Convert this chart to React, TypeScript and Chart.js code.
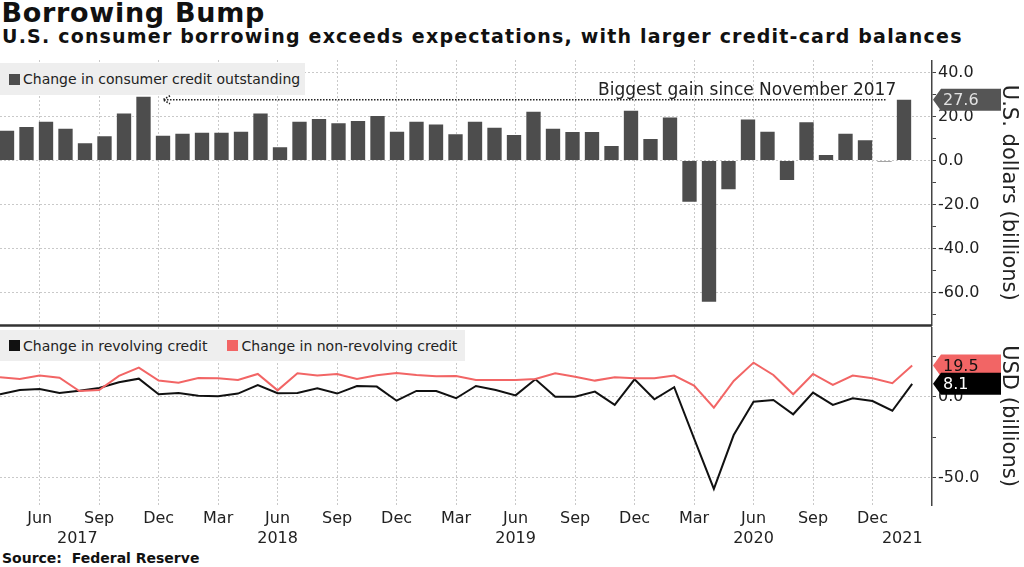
import React, { useEffect, useRef } from 'react';
import { Chart, registerables } from 'chart.js';

Chart.register(...registerables);

const FONT = "'DejaVu Sans', sans-serif";

// ---- data -------------------------------------------------------------
const MONTHS = [
  '2017-04', '2017-05', '2017-06', '2017-07', '2017-08', '2017-09', '2017-10', '2017-11', '2017-12',
  '2018-01', '2018-02', '2018-03', '2018-04', '2018-05', '2018-06', '2018-07', '2018-08', '2018-09', '2018-10', '2018-11', '2018-12',
  '2019-01', '2019-02', '2019-03', '2019-04', '2019-05', '2019-06', '2019-07', '2019-08', '2019-09', '2019-10', '2019-11', '2019-12',
  '2020-01', '2020-02', '2020-03', '2020-04', '2020-05', '2020-06', '2020-07', '2020-08', '2020-09', '2020-10', '2020-11', '2020-12',
  '2021-01', '2021-02',
];

const TOTAL_CREDIT = [
  13.5, 15.2, 17.6, 14.5, 7.8, 11.0, 21.4, 29.0, 11.3,
  12.2, 12.6, 12.6, 13.1, 21.4, 6.0, 17.6, 18.9, 16.9, 18.0, 20.2, 13.1,
  17.6, 16.4, 12.0, 17.6, 14.9, 11.6, 22.2, 14.5, 13.0, 13.0, 6.6, 22.6,
  9.8, 19.6, -18.7, -64.2, -13.1, 18.7, 13.1, -8.9, 17.4, 2.5, 12.2, 9.2,
  -0.4, 27.6,
];

const REVOLVING = [
  1.7, 4.3, 4.9, 2.5, 3.9, 5.6, 9.1, 11.3, 1.7,
  2.5, 0.8, 0.4, 2.1, 7.4, 2.3, 2.5, 5.3, 2.1, 6.8, 6.4, -2.3,
  3.7, 3.7, -0.8, 6.8, 4.3, 1.0, 10.9, 0.2, 0.2, 3.3, -4.9, 10.9,
  -1.4, 6.0, -25.5, -56.8, -23.5, -2.9, -1.9, -10.7, 2.7, -4.9, -0.8, -2.5,
  -8.5, 8.1,
];

const NON_REVOLVING = [
  12.2, 11.1, 13.2, 11.9, 3.7, 4.3, 13.0, 18.1, 10.1,
  8.8, 11.7, 11.5, 10.5, 14.2, 4.1, 14.6, 13.2, 14.2, 11.1, 13.4, 14.8,
  13.6, 12.8, 13.0, 10.5, 10.5, 10.5, 11.1, 14.6, 12.5, 10.1, 12.2, 11.5,
  11.5, 13.2, 7.0, -6.6, 9.9, 21.2, 13.6, 1.7, 14.2, 7.4, 13.2, 11.5,
  8.5, 19.5,
];

const GRID_MONTHS = [
  '2017-06', '2017-09', '2017-12', '2018-03', '2018-06', '2018-09', '2018-12',
  '2019-03', '2019-06', '2019-09', '2019-12', '2020-03', '2020-06', '2020-09', '2020-12',
];
const GRID_LABELS = ['Jun', 'Sep', 'Dec', 'Mar', 'Jun', 'Sep', 'Dec', 'Mar', 'Jun', 'Sep', 'Dec', 'Mar', 'Jun', 'Sep', 'Dec'];
const YEAR_LABELS = ['2017', '2018', '2019', '2020', '2021'];
const YEAR_POS = [3.9, 14, 26, 38, 45.5];

const TOP_LEGEND = 'Change in consumer credit outstanding';
const BOTTOM_LEGEND = ['Change in revolving credit', 'Change in non-revolving credit'];
const ANNOTATION_TEXT = 'Biggest gain since November 2017';
const ANNOTATION_FROM = '2017-11';

const BAR_COLOR = '#4d4d4d';
const REV_COLOR = '#111111';
const NONREV_COLOR = '#f26565';
const GRID_COLOR = '#c9c9c9';
const AXIS_COLOR = '#444444';
const TEXT_COLOR = '#222222';

// ---- helpers -----------------------------------------------------------
const gridPositions = GRID_MONTHS.map((m) => MONTHS.indexOf(m));

function drawTag(ctx: CanvasRenderingContext2D, xTip: number, y: number, fill: string, textColor: string, text: string) {
  const w = 68;
  const h = 22;
  const pw = 8;
  ctx.save();
  ctx.beginPath();
  ctx.moveTo(xTip, y);
  ctx.lineTo(xTip + pw, y - h / 2);
  ctx.lineTo(xTip + w, y - h / 2);
  ctx.lineTo(xTip + w, y + h / 2);
  ctx.lineTo(xTip + pw, y + h / 2);
  ctx.closePath();
  ctx.fillStyle = fill;
  ctx.fill();
  ctx.fillStyle = textColor;
  ctx.font = `16px ${FONT}`;
  ctx.textBaseline = 'middle';
  ctx.textAlign = 'left';
  ctx.fillText(text, xTip + pw + 2, y + 1);
  ctx.restore();
}

const topPlugin = {
  id: 'topExtras',
  afterDraw(chart: any) {
    const { ctx, chartArea, scales } = chart;
    const xb = scales.xb;
    const y = scales.y;
    const last = TOTAL_CREDIT.length - 1;
    const lastVal = TOTAL_CREDIT[last];
    // separator
    ctx.save();
    ctx.strokeStyle = '#333333';
    ctx.lineWidth = 2.5;
    ctx.beginPath();
    ctx.moveTo(0, chartArea.bottom);
    ctx.lineTo(chartArea.right, chartArea.bottom);
    ctx.stroke();
    ctx.restore();
    // annotation
    const ly = y.getPixelForValue(lastVal);
    const x0 = xb.getPixelForValue(MONTHS.indexOf(ANNOTATION_FROM) + 1);
    const x1 = xb.getPixelForValue(last - 0.9);
    ctx.save();
    ctx.strokeStyle = '#222222';
    ctx.lineWidth = 1.6;
    ctx.setLineDash([1.5, 1.5]);
    ctx.beginPath();
    ctx.moveTo(x0 + 1, ly);
    ctx.lineTo(x1, ly);
    ctx.stroke();
    ctx.beginPath();
    ctx.moveTo(x0 + 7, ly - 4);
    ctx.lineTo(x0, ly);
    ctx.lineTo(x0 + 7, ly + 4);
    ctx.stroke();
    ctx.setLineDash([]);
    ctx.fillStyle = TEXT_COLOR;
    ctx.font = `17px ${FONT}`;
    ctx.textAlign = 'right';
    ctx.textBaseline = 'alphabetic';
    ctx.fillText(ANNOTATION_TEXT, xb.getPixelForValue(last - 0.4), ly - 5);
    ctx.restore();
    // value tag
    drawTag(ctx, chartArea.right + 1, y.getPixelForValue(lastVal), '#555555', '#e2e2e2', lastVal.toFixed(1));
  },
};

const bottomPlugin = {
  id: 'bottomExtras',
  afterDraw(chart: any) {
    const { ctx, chartArea, scales } = chart;
    const y = scales.y;
    const last = REVOLVING.length - 1;
    drawTag(ctx, chartArea.right + 1, y.getPixelForValue(NON_REVOLVING[last]), NONREV_COLOR, '#111111', NON_REVOLVING[last].toFixed(1));
    drawTag(ctx, chartArea.right + 1, y.getPixelForValue(REVOLVING[last]), '#000000', '#ffffff', REVOLVING[last].toFixed(1));
  },
};

function yAxis(min: number, max: number, step: number, labelEvery: number, title: string) {
  return {
    type: 'linear',
    position: 'right',
    min,
    max,
    afterFit: (s: any) => {
      s.width = 92;
      s.paddingTop = 0;
      s.paddingBottom = 0;
    },
    ticks: {
      stepSize: step,
      includeBounds: false,
      padding: 2,
      color: TEXT_COLOR,
      font: { family: FONT, size: 16 },
      callback: (v: number) => (Math.abs(v % labelEvery) < 1e-9 ? v.toFixed(1) : ''),
    },
    grid: {
      color: (c: any) => (c.tick && Math.abs(c.tick.value % labelEvery) < 1e-9 ? GRID_COLOR : 'rgba(0,0,0,0)'),
      tickColor: AXIS_COLOR,
      tickLength: 4,
      lineWidth: 1,
    },
    border: { display: true, color: AXIS_COLOR, width: 1.5, dash: [2, 2] },
    title: {
      display: true,
      text: title,
      color: TEXT_COLOR,
      font: { family: FONT, size: 21 },
      padding: { top: 3, bottom: 0 },
    },
  };
}

function gridXAxis(withLabels: boolean) {
  return {
    type: 'linear',
    position: 'bottom',
    min: 0,
    max: MONTHS.length,
    offset: false,
    afterBuildTicks: (s: any) => {
      const t = gridPositions.map((v) => ({ value: v }));
      if (withLabels) YEAR_POS.forEach((v) => t.push({ value: v }));
      s.ticks = t;
    },
    afterFit: (s: any) => {
      s.height = withLabels ? 45 : 0;
      s.paddingLeft = 0;
      s.paddingRight = 0;
    },
    ticks: {
      display: withLabels,
      autoSkip: false,
      maxRotation: 0,
      minRotation: 0,
      padding: 3,
      color: TEXT_COLOR,
      font: { family: FONT, size: 16, lineHeight: 1.3 },
      callback: (_v: number, i: number) => {
        if (i < GRID_LABELS.length) {
          const yi = YEAR_POS.indexOf(gridPositions[i]);
          return yi >= 0 ? [GRID_LABELS[i], YEAR_LABELS[yi]] : GRID_LABELS[i];
        }
        const k = i - GRID_LABELS.length;
        const p = YEAR_POS[k];
        if (gridPositions.indexOf(p) >= 0) return '';
        return ['', YEAR_LABELS[k]];
      },
    },
    grid: {
      offset: false,
      drawTicks: false,
      color: (c: any) => (c.index < GRID_LABELS.length ? GRID_COLOR : 'rgba(0,0,0,0)'),
      lineWidth: 1,
    },
    border: { display: false, dash: [2, 2] },
  };
}

export default function App() {
  const topRef = useRef<HTMLCanvasElement | null>(null);
  const botRef = useRef<HTMLCanvasElement | null>(null);

  useEffect(() => {
    const barData = TOTAL_CREDIT.map((v, i) => ({ x: i, y: v }));
    const top = new Chart(topRef.current as HTMLCanvasElement, {
      type: 'bar',
      data: {
        datasets: [
          {
            label: TOP_LEGEND,
            data: barData as any,
            xAxisID: 'xb',
            yAxisID: 'y',
            backgroundColor: BAR_COLOR,
            borderWidth: 0,
            barPercentage: 0.735,
            categoryPercentage: 1,
          },
        ],
      },
      options: {
        responsive: false,
        animation: false,
        devicePixelRatio: 1,
        layout: { padding: { left: 0, right: 0, top: 0, bottom: 1.5 } },
        plugins: { legend: { display: false }, tooltip: { enabled: false } },
        scales: {
          x: gridXAxis(false) as any,
          xb: {
            type: 'linear',
            display: false,
            offset: false,
            min: -7 / 19.5,
            max: -7 / 19.5 + 932 / 19.5,
            grid: { offset: false },
          } as any,
          y: yAxis(-75, 45.7, 10, 20, 'U.S. dollars (billions)') as any,
        },
      },
      plugins: [topPlugin],
    });

    const bottom = new Chart(botRef.current as HTMLCanvasElement, {
      type: 'line',
      data: {
        datasets: [
          {
            label: BOTTOM_LEGEND[1],
            data: NON_REVOLVING.map((v, i) => ({ x: i, y: v })) as any,
            borderColor: NONREV_COLOR,
            borderWidth: 2,
            pointRadius: 0,
            tension: 0,
          },
          {
            label: BOTTOM_LEGEND[0],
            data: REVOLVING.map((v, i) => ({ x: i, y: v })) as any,
            borderColor: REV_COLOR,
            borderWidth: 2,
            pointRadius: 0,
            tension: 0,
          },
        ],
      },
      options: {
        responsive: false,
        animation: false,
        devicePixelRatio: 1,
        layout: { padding: 0 },
        plugins: { legend: { display: false }, tooltip: { enabled: false } },
        scales: {
          x: gridXAxis(true) as any,
          y: yAxis(-66.7, 43.2, 25, 50, 'USD (billions)') as any,
        },
      },
      plugins: [bottomPlugin],
    });

    return () => {
      top.destroy();
      bottom.destroy();
    };
  }, []);

  const legendBox: React.CSSProperties = {
    position: 'absolute',
    left: 0,
    background: '#eeeeee',
    display: 'flex',
    alignItems: 'center',
    paddingLeft: 9,
    boxSizing: 'border-box',
    fontSize: 14,
    color: TEXT_COLOR,
    whiteSpace: 'nowrap',
  };
  const sq = (c: string): React.CSSProperties => ({ width: 11, height: 11, background: c, marginRight: 3, flex: 'none' });

  return (
    <div style={{ position: 'absolute', left: 0, top: 0, width: 1024, height: 567, background: '#ffffff', overflow: 'hidden', fontFamily: FONT, color: '#111' }}>
      <div style={{ position: 'absolute', left: 1.5, top: -1.1, fontSize: 27, fontWeight: 'bold', lineHeight: 1, letterSpacing: 0.7, whiteSpace: 'nowrap' }}>
        Borrowing Bump
      </div>
      <div style={{ position: 'absolute', left: 2, top: 27.2, fontSize: 19, fontWeight: 'bold', lineHeight: 1, letterSpacing: 1.2, whiteSpace: 'nowrap' }}>
        U.S. consumer borrowing exceeds expectations, with larger credit-card balances
      </div>
      <canvas ref={topRef} width={1024} height={267} style={{ position: 'absolute', left: 0, top: 60, display: 'block' }} />
      <canvas ref={botRef} width={1024} height={223} style={{ position: 'absolute', left: 0, top: 327, display: 'block' }} />
      <div style={{ ...legendBox, top: 63, width: 305, height: 32 }}>
        <span style={sq(BAR_COLOR)} />
        <span>{TOP_LEGEND}</span>
      </div>
      <div style={{ ...legendBox, top: 330, width: 465, height: 31 }}>
        <span style={sq(REV_COLOR)} />
        <span>{BOTTOM_LEGEND[0]}</span>
        <span style={{ ...sq(NONREV_COLOR), marginLeft: 20 }} />
        <span>{BOTTOM_LEGEND[1]}</span>
      </div>
      <div style={{ position: 'absolute', left: 2, top: 551.2, fontSize: 14, fontWeight: 'bold', lineHeight: 1, whiteSpace: 'nowrap' }}>
        Source:&nbsp; Federal Reserve
      </div>
    </div>
  );
}
